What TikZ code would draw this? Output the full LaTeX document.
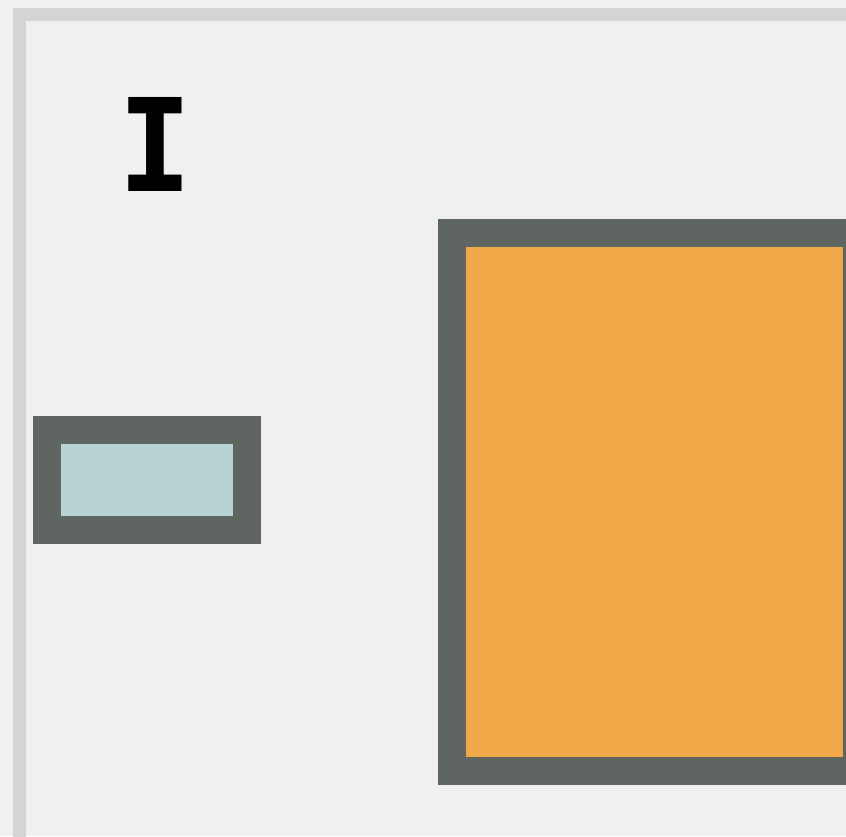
\documentclass[tikz,border=0pt]{standalone}
\usepackage{fontspec}
\newfontfamily\monofont{DejaVu Sans Mono}
\definecolor{bgc}{HTML}{F0F0F0}
\definecolor{framec}{HTML}{D4D4D4}
\definecolor{edgec}{HTML}{5F6560}
\definecolor{bluec}{HTML}{B9D3D4}
\definecolor{orangec}{HTML}{F0A848}
\tikzset{
  boxstyle/.style={draw=edgec, line width=28pt, line join=miter},
}
\begin{document}
\begin{tikzpicture}[x=1pt,y=-1pt]
\useasboundingbox (0,0) rectangle (846,836);
\fill[bgc] (0,0) rectangle (846,836);
\draw[framec, line width=13pt] (19.5,900) -- (19.5,14.5) -- (900,14.5);
\node[inner sep=0pt, xscale=0.95, font=\monofont\bfseries\fontsize{129}{129}\selectfont] (label) at (155,144) {I};
\draw[boxstyle, fill=bluec] (47,430) rectangle (247,530);
\draw[boxstyle, fill=orangec] (452,233) rectangle (857,771);
\end{tikzpicture}
\end{document}
